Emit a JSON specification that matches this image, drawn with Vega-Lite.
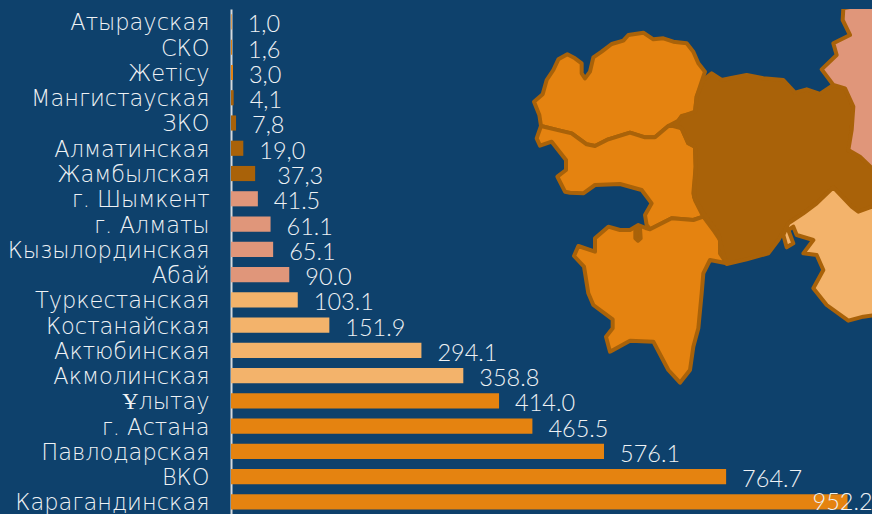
{"$schema":"https://vega.github.io/schema/vega-lite/v6.json","width":641,"height":505,"autosize":"none","padding":{"left":231,"top":9,"right":0,"bottom":0},"background":"#0E416C","view":{"stroke":null},
"datasets":{"rows":[
{"region":"Атырауская","value":1.0,"label":"1,0","tier":"a"},
{"region":"СКО","value":1.6,"label":"1,6","tier":"a"},
{"region":"Жетісу","value":3.0,"label":"3,0","tier":"a"},
{"region":"Мангистауская","value":4.1,"label":"4,1","tier":"b"},
{"region":"ЗКО","value":7.8,"label":"7,8","tier":"b"},
{"region":"Алматинская","value":19.0,"label":"19,0","tier":"b"},
{"region":"Жамбылская","value":37.3,"label":"37,3","tier":"b"},
{"region":"г. Шымкент","value":41.5,"label":"41.5","tier":"c"},
{"region":"г. Алматы","value":61.1,"label":"61.1","tier":"c"},
{"region":"Кызылординская","value":65.1,"label":"65.1","tier":"c"},
{"region":"Абай","value":90.0,"label":"90.0","tier":"c"},
{"region":"Туркестанская","value":103.1,"label":"103.1","tier":"d"},
{"region":"Костанайская","value":151.9,"label":"151.9","tier":"d"},
{"region":"Актюбинская","value":294.1,"label":"294.1","tier":"d"},
{"region":"Акмолинская","value":358.8,"label":"358.8","tier":"d"},
{"region":"Ұлытау","value":414.0,"label":"414.0","tier":"a"},
{"region":"г. Астана","value":465.5,"label":"465.5","tier":"a"},
{"region":"Павлодарская","value":576.1,"label":"576.1","tier":"a"},
{"region":"ВКО","value":764.7,"label":"764.7","tier":"a"},
{"region":"Карагандинская","value":952.2,"label":"952.2","tier":"a"}
]},
"layer":[
{"data":{"values":[
{"type":"Feature","properties":{"tier":"a"},"geometry":{"type":"Polygon","coordinates":[[[525,215],[505,190],[490,155],[470,130],[430,125],[400,115],[370,118],[340,98],[295,105],[280,122],[245,132],[215,155],[190,172],[180,215],[165,235],[155,220],[155,190],[135,175],[112,163],[85,178],[70,210],[50,240],[38,283],[12,305],[28,345],[33,378],[90,392],[125,400],[170,433],[195,438],[235,418],[300,398],[345,412],[375,412],[415,378],[445,362],[455,348],[495,338],[500,290],[525,215]]]}},
{"type":"Feature","properties":{"tier":"a"},"geometry":{"type":"Polygon","coordinates":[[[33,378],[20,415],[30,437],[65,425],[108,480],[108,510],[82,530],[105,575],[120,578],[160,580],[195,555],[270,552],[335,570],[365,610],[345,645],[350,675],[360,688],[425,655],[490,660],[520,650],[495,600],[490,580],[497,500],[495,440],[475,430],[455,385],[430,378],[415,378],[375,412],[345,412],[300,398],[235,418],[195,438],[170,433],[125,400],[90,392],[33,378]]]}},
{"type":"Feature","properties":{"tier":"a"},"geometry":{"type":"Polygon","coordinates":[[[350,685],[325,675],[300,690],[270,690],[235,680],[195,715],[195,755],[145,738],[132,768],[162,800],[175,880],[190,915],[248,958],[248,985],[228,1010],[240,1055],[300,1022],[370,1025],[415,1110],[450,1148],[480,1110],[490,1040],[505,985],[515,880],[520,820],[540,780],[590,790],[570,760],[570,720],[550,690],[520,650],[490,660],[425,655],[360,688],[350,685]]]}},
{"type":"Feature","properties":{"tier":"b"},"geometry":{"type":"Polygon","coordinates":[[[545,220],[575,240],[600,235],[650,225],[700,235],[760,240],[795,278],[830,268],[870,282],[910,255],[945,265],[970,320],[965,390],[955,450],[990,470],[1030,505],[1030,622],[985,635],[965,620],[910,562],[860,610],[820,640],[775,670],[745,720],[715,760],[650,778],[590,792],[575,745],[565,700],[520,640],[492,590],[497,500],[495,440],[475,430],[455,385],[435,375],[455,350],[495,335],[500,290],[520,240],[545,220]]]}},
{"type":"Feature","properties":{"tier":"b"},"geometry":{"type":"Polygon","coordinates":[[[316,685],[330,685],[332,715],[324,722],[316,715],[316,685]]]}},
{"type":"Feature","properties":{"tier":"c"},"geometry":{"type":"Polygon","coordinates":[[[940,25],[990,15],[1040,15],[1040,515],[1026,505],[990,470],[955,450],[965,390],[970,320],[945,265],[910,255],[875,208],[920,165],[910,130],[960,105],[938,60],[940,25]]]}},
{"type":"Feature","properties":{"tier":"d"},"geometry":{"type":"Polygon","coordinates":[[[910,562],[965,620],[985,635],[1026,620],[1040,630],[1040,945],[1000,950],[955,962],[890,915],[850,865],[880,810],[860,765],[820,760],[850,720],[800,705],[790,680],[775,690],[790,730],[770,742],[760,705],[775,670],[820,640],[860,610],[910,562]]]}}
]},
"projection":{"type":"identity","scale":0.33333,"translate":[299,-9]},
"mark":{"type":"geoshape","stroke":"#A96209","strokeWidth":4,"strokeJoin":"round"},
"encoding":{"color":{"field":"properties.tier","type":"nominal","scale":{"domain":["a","b","c","d"],"range":["#E58310","#A96209","#E0967A","#F3B36B"]},"legend":null}}},
{"data":{"name":"rows"},"mark":{"type":"bar"},
"encoding":{
"y":{"field":"region","type":"nominal","sort":null,"title":null,"scale":{"paddingInner":0.4,"paddingOuter":0.195,"align":0.545},"axis":{"ticks":false,"labelPadding":22,"labelOffset":1.5,"labelFont":"DejaVu Sans","labelFontSize":22.5,"labelFontWeight":200,"labelColor":"#EEF2F5","labelLimit":230,"domainColor":"#D5D9DC","domainWidth":2,"grid":false}},
"x":{"field":"value","type":"quantitative","scale":{"domain":[0,990],"nice":false},"axis":null},
"color":{"field":"tier","type":"nominal","scale":{"domain":["a","b","c","d"],"range":["#E58310","#A96209","#E0967A","#F3B36B"]},"legend":null}}},
{"data":{"name":"rows"},"transform":[{"filter":"datum.value !== 37.3 && datum.value < 900"}],"mark":{"type":"text","align":"left","baseline":"middle","dx":16,"dy":3.5,"font":"Lato","fontSize":23.5,"fontWeight":300,"color":"#EEF2F5"},
"encoding":{"y":{"field":"region","type":"nominal","sort":null},"x":{"field":"value","type":"quantitative"},"text":{"field":"label"}}},
{"data":{"name":"rows"},"transform":[{"filter":"datum.value === 37.3"}],"mark":{"type":"text","align":"left","baseline":"middle","dx":22,"dy":3.5,"font":"Lato","fontSize":23.5,"fontWeight":300,"color":"#EEF2F5"},
"encoding":{"y":{"field":"region","type":"nominal","sort":null},"x":{"field":"value","type":"quantitative"},"text":{"field":"label"}}},
{"data":{"name":"rows"},"transform":[{"filter":"datum.value > 900"}],"mark":{"type":"text","align":"left","baseline":"middle","dx":-35,"dy":1,"font":"Lato","fontSize":23.5,"fontWeight":300,"color":"#EEF2F5"},
"encoding":{"y":{"field":"region","type":"nominal","sort":null},"x":{"field":"value","type":"quantitative"},"text":{"field":"label"}}}
]}
